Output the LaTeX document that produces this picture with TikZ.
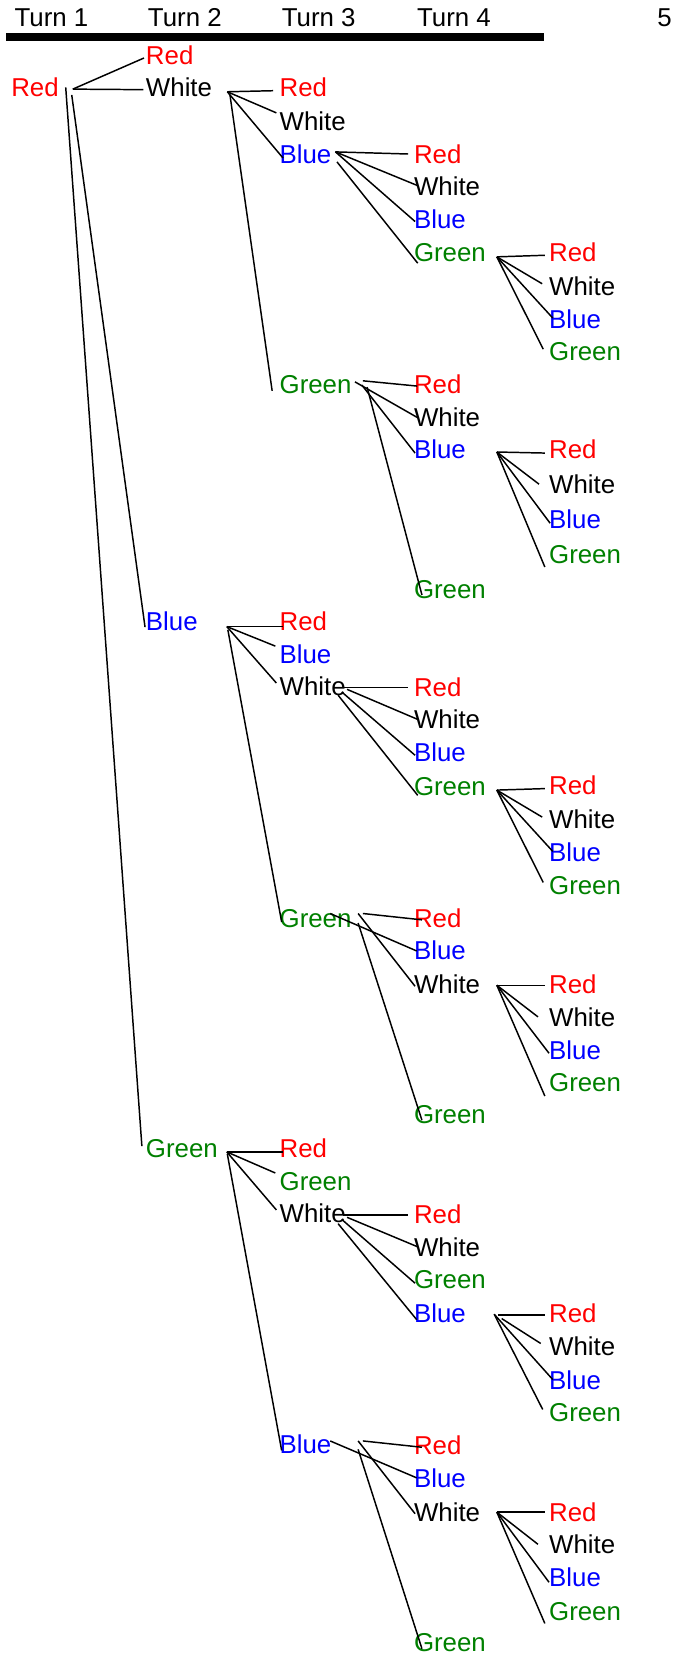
\documentclass[tikz,border=0pt]{standalone}
\usepackage{fontspec}
\setmainfont{Liberation Sans}
\definecolor{cRed}{RGB}{255,0,0}
\definecolor{cBlue}{RGB}{0,0,255}
\definecolor{cGreen}{RGB}{0,128,0}
\definecolor{cWhite}{RGB}{0,0,0}
\begin{document}
\begin{tikzpicture}[x=1pt,y=-1pt,
  lbl/.style={anchor=west,inner sep=0pt,outer sep=0pt,text height=17.5pt,text depth=0pt,
              font=\fontsize{24.5}{29}\selectfont},
  hdr/.style={anchor=base west,inner sep=0pt,font=\fontsize{24.5}{29}\selectfont},
  lr/.style={lbl,text=cRed},
  lw/.style={lbl,text=cWhite},
  lb/.style={lbl,text=cBlue},
  lg/.style={lbl,text=cGreen},
  edge/.style={line width=1.4pt,black},
  bar/.style={line width=7pt,black}]
\useasboundingbox (0,0) rectangle (640,1568);

% column heads and rule
\node[hdr] (t1) at (13.7,25.3) {Turn 1};
\node[hdr] (t2) at (140.1,25.3) {Turn 2};
\node[hdr] (t3) at (267.0,25.3) {Turn 3};
\node[hdr] (t4) at (395.2,25.3) {Turn 4};
\node[hdr] (t5) at (623.0,25.3) {5};
\coordinate (barL) at (5.7,35.1);
\coordinate (barR) at (516.1,35.1);
\draw[bar] (barL) -- (barR);

% ---- turn 1
\node[lr] (r1) at (10.7,83) {Red};

% ---- turn 2
\node[lr] (aR) at (138.4,52.5) {Red};
\node[lw] (aW) at (138.4,82.5) {White};
\node[lb] (aB) at (138.4,589.4) {Blue};
\node[lg] (aG) at (138.4,1088.8) {Green};

% ---- turn 3
\node[lr] (wR) at (265.1,82.5) {Red};
\node[lw] (wW) at (265.1,114.6) {White};
\node[lb] (wB) at (265.1,146.2) {Blue};
\node[lg] (wG) at (265.1,364.6) {Green};

\node[lr] (bR) at (265.1,589) {Red};
\node[lb] (bB) at (265.1,620) {Blue};
\node[lw] (bW) at (265.1,650.4) {White};
\node[lg] (bG) at (265.1,870.7) {Green};

\node[lr] (gR) at (265.1,1088.8) {Red};
\node[lg] (gG) at (265.1,1119.6) {Green};
\node[lw] (gW) at (265.1,1150) {White};
\node[lb] (gB) at (265.1,1369.6) {Blue};

% ---- turn 4
\node[lr] (wbR) at (392.5,146) {Red};
\node[lw] (wbW) at (392.5,177) {White};
\node[lb] (wbB) at (392.5,207.9) {Blue};
\node[lg] (wbG) at (392.5,239.4) {Green};

\node[lr] (wgR) at (392.5,364) {Red};
\node[lw] (wgW) at (392.5,395.7) {White};
\node[lb] (wgB) at (392.5,426) {Blue};
\node[lg] (wgG) at (392.5,559) {Green};

\node[lr] (bwR) at (392.5,651.4) {Red};
\node[lw] (bwW) at (392.5,682) {White};
\node[lb] (bwB) at (392.5,713.5) {Blue};
\node[lg] (bwG) at (392.5,745) {Green};

\node[lr] (bgR) at (392.5,870.4) {Red};
\node[lb] (bgB) at (392.5,900.8) {Blue};
\node[lw] (bgW) at (392.5,933) {White};
\node[lg] (bgG) at (392.5,1056.3) {Green};

\node[lr] (gwR) at (392.5,1151) {Red};
\node[lw] (gwW) at (392.5,1182.5) {White};
\node[lg] (gwG) at (392.5,1212.8) {Green};
\node[lb] (gwB) at (392.5,1245) {Blue};

\node[lr] (gbR) at (392.5,1370) {Red};
\node[lb] (gbB) at (392.5,1401) {Blue};
\node[lw] (gbW) at (392.5,1433.3) {White};
\node[lg] (gbG) at (392.5,1557) {Green};

% ---- turn 5
\node[lr] (wbgR) at (520.6,239.3) {Red};
\node[lw] (wbgW) at (520.6,271) {White};
\node[lb] (wbgB) at (520.6,302.5) {Blue};
\node[lg] (wbgG) at (520.6,333.4) {Green};

\node[lr] (wgbR) at (520.6,426) {Red};
\node[lw] (wgbW) at (520.6,459) {White};
\node[lb] (wgbB) at (520.6,492) {Blue};
\node[lg] (wgbG) at (520.6,525.5) {Green};

\node[lr] (bwgR) at (520.6,744.9) {Red};
\node[lw] (bwgW) at (520.6,776.6) {White};
\node[lb] (bwgB) at (520.6,808.1) {Blue};
\node[lg] (bwgG) at (520.6,839) {Green};

\node[lr] (bgwR) at (520.6,933) {Red};
\node[lw] (bgwW) at (520.6,964.5) {White};
\node[lb] (bgwB) at (520.6,995.5) {Blue};
\node[lg] (bgwG) at (520.6,1026.4) {Green};

\node[lr] (gwbR) at (520.6,1245) {Red};
\node[lw] (gwbW) at (520.6,1276.7) {White};
\node[lb] (gwbB) at (520.6,1308.2) {Blue};
\node[lg] (gwbG) at (520.6,1339.1) {Green};

\node[lr] (gbwR) at (520.6,1433.3) {Red};
\node[lw] (gbwW) at (520.6,1464) {White};
\node[lb] (gbwB) at (520.6,1495.7) {Blue};
\node[lg] (gbwG) at (520.6,1527) {Green};

% ================= branches
% turn 1 -> turn 2
\coordinate (h1r) at (69,84.5);
\coordinate (h1b) at (68,90);
\coordinate (h1g) at (62.3,82.8);
\draw[edge] (h1r) -- ([shift={(-1.9,2.5)}]aR.west);
\draw[edge] (h1r) -- ([shift={(-2.4,2.5)}]aW.west);
\draw[edge] (h1b) -- ([shift={(-0.9,5.1)}]aB.west);
\draw[edge] (h1g) -- ([shift={(-3.9,-2.3)}]aG.west);

% White -> turn 3
\coordinate (hW) at (215.5,87);
\coordinate (hWg) at (218,90);
\draw[edge] (hW) -- ([shift={(-6.1,3.5)}]wR.west);
\draw[edge] (hW) -- ([shift={(-3.1,-7.6)}]wW.west);
\draw[edge] (hW) -- ([shift={(3.2,3.6)}]wB.west);
\draw[edge] (hWg) -- ([shift={(-7.1,5.9)}]wG.west);

% White, Blue -> turn 4
\coordinate (hWB) at (318,144);
\coordinate (hWBg) at (319.5,153.5);
\draw[edge] (hWB) -- ([shift={(-5.5,0)}]wbR.west);
\draw[edge] (hWB) -- ([shift={(3.5,-1)}]wbW.west);
\draw[edge] (hWB) -- ([shift={(1,2.1)}]wbB.west);
\draw[edge] (hWBg) -- ([shift={(3.5,10.1)}]wbG.west);

% White, Blue, Green -> turn 5
\coordinate (hWBG) at (471,243.5);
\draw[edge] (hWBG) -- ([shift={(-4.1,2.7)}]wbgR.west);
\draw[edge] (hWBG) -- ([shift={(-6.6,-2)}]wbgW.west);
\draw[edge] (hWBG) -- ([shift={(3.4,-1)}]wbgB.west);
\draw[edge] (hWBG) -- ([shift={(-5.6,-2.4)}]wbgG.west);

% White, Green -> turn 4
\coordinate (hWGr) at (344,361);
\coordinate (hWGw) at (336.5,362);
\coordinate (hWGb) at (343,365);
\coordinate (hWGg) at (348,367);
\draw[edge] (hWGr) -- ([shift={(3,2)}]wgR.west);
\draw[edge] (hWGw) -- ([shift={(3.5,0.3)}]wgW.west);
\draw[edge] (hWGb) -- ([shift={(1,3.5)}]wgB.west);
\draw[edge] (hWGg) -- ([shift={(7.5,5)}]wgG.west);

% White, Green, Blue -> turn 5
\coordinate (hWGB) at (471,428.5);
\draw[edge] (hWGB) -- ([shift={(-4.1,3.5)}]wgbR.west);
\draw[edge] (hWGB) -- ([shift={(-9.6,0)}]wgbW.west);
\draw[edge] (hWGB) -- ([shift={(0.9,4)}]wgbB.west);
\draw[edge] (hWGB) -- ([shift={(-4.1,12)}]wgbG.west);

% Blue -> turn 3
\coordinate (hB) at (215,594);
\coordinate (hBg) at (216,597);
\draw[edge] (hB) -- ([shift={(2.9,5)}]bR.west);
\draw[edge] (hB) -- ([shift={(-4.1,-7.5)}]bB.west);
\draw[edge] (hB) -- ([shift={(-3.1,-2.9)}]bW.west);
\draw[edge] (hBg) -- ([shift={(1.9,3.3)}]bG.west);

% Blue, White -> turn 4
\coordinate (hBWr) at (325,651.5);
\coordinate (hBWw) at (329,653.5);
\coordinate (hBWb) at (324,656);
\coordinate (hBWg) at (320.5,659);
\draw[edge] (hBWr) -- ([shift={(-5.5,0.1)}]bwR.west);
\draw[edge] (hBWw) -- ([shift={(3.5,0)}]bwW.west);
\draw[edge] (hBWb) -- ([shift={(1,2.5)}]bwB.west);
\draw[edge] (hBWg) -- ([shift={(3.5,9)}]bwG.west);

% Blue, White, Green -> turn 5
\coordinate (hBWG) at (471,749);
\draw[edge] (hBWG) -- ([shift={(-4.1,2.7)}]bwgR.west);
\draw[edge] (hBWG) -- ([shift={(-6.6,-2)}]bwgW.west);
\draw[edge] (hBWG) -- ([shift={(3.4,-1)}]bwgB.west);
\draw[edge] (hBWG) -- ([shift={(-5.6,-2.4)}]bwgG.west);

% Blue, Green -> turn 4
\coordinate (hBGr) at (344,866);
\coordinate (hBGb) at (313,866);
\coordinate (hBGw) at (339.5,866);
\coordinate (hBGg) at (339.5,875);
\draw[edge] (hBGr) -- ([shift={(7.5,1.6)}]bgR.west);
\draw[edge] (hBGb) -- ([shift={(2.5,0.7)}]bgB.west);
\draw[edge] (hBGw) -- ([shift={(1,2)}]bgW.west);
\draw[edge] (hBGg) -- ([shift={(7.5,5.7)}]bgG.west);

% Blue, Green, White -> turn 5
\coordinate (hBGW) at (471,934);
\draw[edge] (hBGW) -- ([shift={(-4.1,1)}]bgwR.west);
\draw[edge] (hBGW) -- ([shift={(-10.6,-0.5)}]bgwW.west);
\draw[edge] (hBGW) -- ([shift={(-0.1,3)}]bgwB.west);
\draw[edge] (hBGW) -- ([shift={(-4.1,12.6)}]bgwG.west);

% Green -> turn 3
\coordinate (hG) at (215,1092);
\coordinate (hGb) at (215.5,1094);
\draw[edge] (hG) -- ([shift={(2.9,3.2)}]gR.west);
\draw[edge] (hG) -- ([shift={(-4.1,-7.6)}]gG.west);
\draw[edge] (hG) -- ([shift={(-3.1,-3)}]gW.west);
\draw[edge] (hGb) -- ([shift={(1.9,5.4)}]gB.west);

% Green, White -> turn 4
\coordinate (hGWr) at (325,1152);
\coordinate (hGWw) at (329,1154);
\coordinate (hGWg) at (324,1156);
\coordinate (hGWb) at (320.5,1160);
\draw[edge] (hGWr) -- ([shift={(-5.5,1)}]gwR.west);
\draw[edge] (hGWw) -- ([shift={(3.5,-0.5)}]gwW.west);
\draw[edge] (hGWg) -- ([shift={(1,3.7)}]gwG.west);
\draw[edge] (hGWb) -- ([shift={(2.5,6)}]gwB.west);

% Green, White, Blue -> turn 5
\coordinate (hGWBr) at (472.5,1246.8);
\coordinate (hGWBw) at (475.6,1250);
\coordinate (hGWB) at (468.5,1245.9);
\draw[edge] (hGWBr) -- ([shift={(-3.9,1.8)}]gwbR.west);
\draw[edge] (hGWBw) -- ([shift={(-8,-3.1)}]gwbW.west);
\draw[edge] (hGWB) -- ([shift={(3.4,-0.4)}]gwbB.west);
\draw[edge] (hGWB) -- ([shift={(-6.1,-2.9)}]gwbG.west);

% Green, Blue -> turn 4
\coordinate (hGBr) at (344,1366);
\coordinate (hGBb) at (313,1366);
\coordinate (hGBw) at (339.5,1366);
\coordinate (hGBg) at (339.5,1374);
\draw[edge] (hGBr) -- ([shift={(7.5,2)}]gbR.west);
\draw[edge] (hGBb) -- ([shift={(2.5,0)}]gbB.west);
\draw[edge] (hGBw) -- ([shift={(1,1.7)}]gbW.west);
\draw[edge] (hGBg) -- ([shift={(7.5,6)}]gbG.west);

% Green, Blue, White -> turn 5
\coordinate (hGBW) at (471,1433.5);
\draw[edge] (hGBW) -- ([shift={(-4.1,0.2)}]gbwR.west);
\draw[edge] (hGBW) -- ([shift={(-10.6,0)}]gbwW.west);
\draw[edge] (hGBW) -- ([shift={(-0.1,4.3)}]gbwB.west);
\draw[edge] (hGBW) -- ([shift={(-4.1,12)}]gbwG.west);
\end{tikzpicture}
\end{document}
